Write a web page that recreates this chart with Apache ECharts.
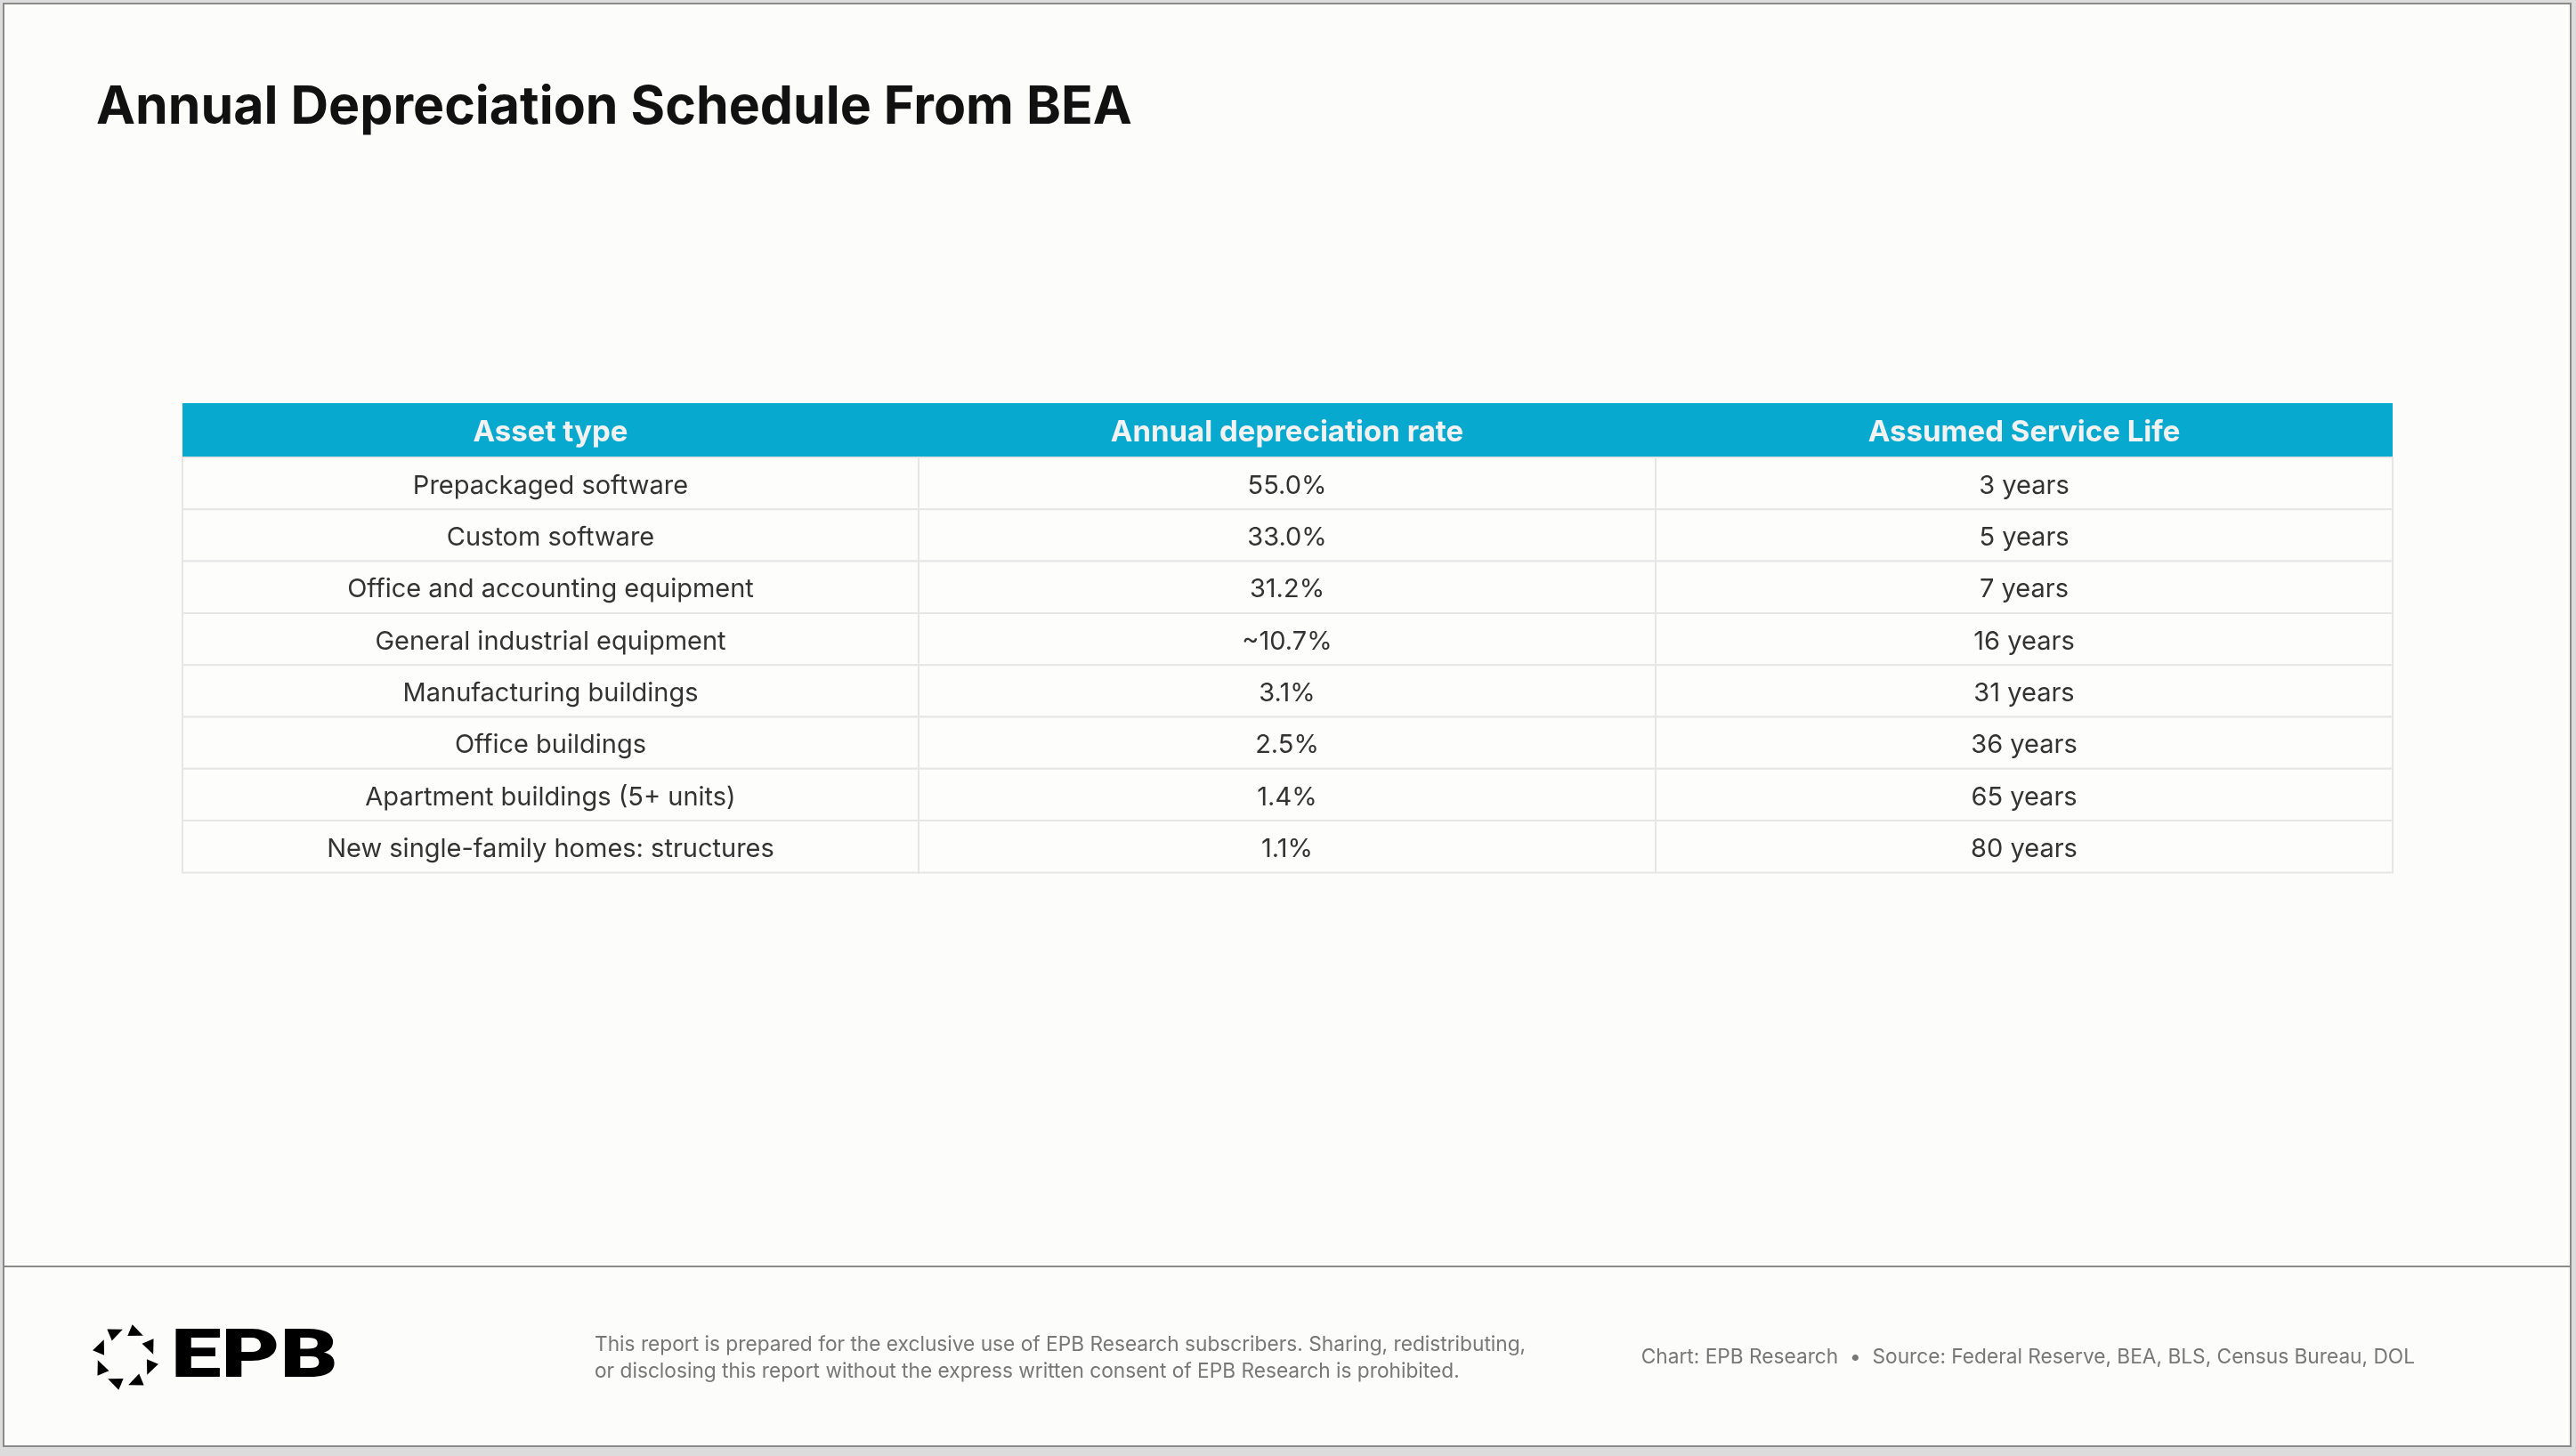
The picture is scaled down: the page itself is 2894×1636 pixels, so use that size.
<!DOCTYPE html>
<html>
<head>
<meta charset="utf-8">
<script src="https://cdn.jsdelivr.net/npm/echarts@6/dist/echarts.min.js"></script>
<style>
html,body{margin:0;padding:0;background:#dcdcdc;}
#chart{width:2894px;height:1636px;}
</style>
</head>
<body>
<div id="chart"></div>
<script>
//表格数据
var headers = ['Asset type', 'Annual depreciation rate', 'Assumed Service Life'];
var assets = ['Prepackaged software', 'Custom software', 'Office and accounting equipment',
  'General industrial equipment', 'Manufacturing buildings', 'Office buildings',
  'Apartment buildings (5+ units)', 'New single-family homes: structures'];
var rates = ['55.0%', '33.0%', '31.2%', '~10.7%', '3.1%', '2.5%', '1.4%', '1.1%'];
var lives = ['3 years', '5 years', '7 years', '16 years', '31 years', '36 years', '65 years', '80 years'];

var font = '"Inter", "Noto Sans", sans-serif';
var g = [];

//页面背景与边框
g.push({type: 'rect', shape: {x: 4, y: 4, width: 2884, height: 1621}, style: {fill: '#fcfcfa', stroke: '#8a8a8a', lineWidth: 2}});
g.push({type: 'line', shape: {x1: 4, y1: 1423, x2: 2888, y2: 1423}, style: {stroke: '#8a8a8a', lineWidth: 2}});

//标题
g.push({type: 'text', x: 108, y: 121, style: {text: 'Annual Depreciation Schedule From BEA', font: 'bold 59px ' + font, fill: '#111', verticalAlign: 'middle'}});

//表格
var colX = [205, 1032, 1860, 2688];
var headTop = 453, headH = 61, rowH = 58.3;
g.push({type: 'rect', shape: {x: colX[0], y: headTop, width: colX[3] - colX[0], height: headH}, style: {fill: '#08a9cf'}});
headers.forEach(function (h, i) {
  g.push({type: 'text', x: (colX[i] + colX[i + 1]) / 2, y: headTop + headH / 2 + 3,
    style: {text: h, font: 'bold 33px ' + font, fill: '#f2f2f2', align: 'center', verticalAlign: 'middle'}});
});
var cols = [assets, rates, lives];
assets.forEach(function (a, r) {
  var top = headTop + headH + r * rowH;
  for (var c = 0; c < 3; c++) {
    g.push({type: 'rect', shape: {x: colX[c], y: top, width: colX[c + 1] - colX[c], height: rowH},
      style: {fill: '#fdfdfc', stroke: '#e6e6e6', lineWidth: 2}});
    g.push({type: 'text', x: (colX[c] + colX[c + 1]) / 2, y: top + rowH / 2 + 3,
      style: {text: cols[c][r], font: '29px ' + font, fill: '#333', align: 'center', verticalAlign: 'middle'}});
  }
});

//标志
var cx = 141, cy = 1525, R = 30;
for (var k = 0; k < 8; k++) {
  var ang = (k * 45 + 22.5) * Math.PI / 180;
  var px = cx + R * Math.cos(ang), py = cy + R * Math.sin(ang);
  var tx = -Math.sin(ang), ty = Math.cos(ang);
  var nx = Math.cos(ang), ny = Math.sin(ang);
  g.push({type: 'polygon', shape: {points: [
    [px + tx * 9, py + ty * 9],
    [px - tx * 7 - nx * 7, py - ty * 7 - ny * 7],
    [px - tx * 7 + nx * 7, py - ty * 7 + ny * 7]
  ]}, style: {fill: '#000'}});
}
g.push({type: 'text', x: 192, y: 1528, scaleX: 1.33, style: {text: 'EPB', font: '900 76px "Roboto", ' + font, fill: '#000', verticalAlign: 'middle'}});

//页脚
g.push({type: 'text', x: 668, y: 1511, style: {text: 'This report is prepared for the exclusive use of EPB Research subscribers. Sharing, redistributing,', font: '22.7px ' + font, fill: '#777', verticalAlign: 'middle'}});
g.push({type: 'text', x: 668, y: 1541, style: {text: 'or disclosing this report without the express written consent of EPB Research is prohibited.', font: '22.7px ' + font, fill: '#777', verticalAlign: 'middle'}});
g.push({type: 'text', x: 2713, y: 1525, style: {text: 'Chart: EPB Research  \u2022  Source: Federal Reserve, BEA, BLS, Census Bureau, DOL', font: '22.7px ' + font, fill: '#777', align: 'right', verticalAlign: 'middle'}});

var myChart = echarts.init(document.getElementById('chart'));
myChart.setOption({animation: false, graphic: {elements: g}});
</script>
</body>
</html>
